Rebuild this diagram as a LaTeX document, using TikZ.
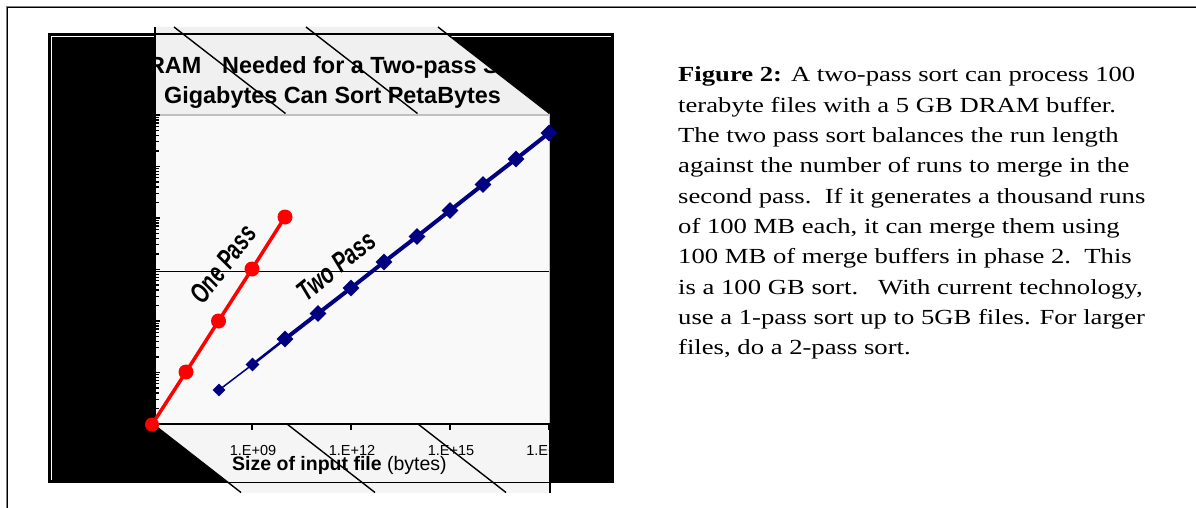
\documentclass[tikz,border=0pt]{standalone}
\usepackage{fontspec}
\usepackage{graphicx}
\setmainfont{Liberation Serif}
\newfontfamily\arialf{Liberation Sans}
\usetikzlibrary{shapes.geometric}
\pgfdeclarelayer{lines}
\pgfdeclarelayer{marks}
\pgfsetlayers{main,lines,marks}
\definecolor{navy}{HTML}{000080}
\definecolor{titlegray}{HTML}{F0F0F0}
\definecolor{plotgray}{HTML}{F9F9F9}
\definecolor{botgray}{HTML}{F5F5F5}
\definecolor{bordgray}{HTML}{C0C0C0}
\newcommand{\capline}[1]{\scalebox{1.24}[1]{#1}}
\begin{document}
\begin{tikzpicture}[x=1pt,y=-1pt,
  txt/.style={inner sep=0pt, anchor=base west},
  captxt/.style={txt, font=\fontsize{21.5}{24}\selectfont},
  ticklab/.style={inner sep=0pt, anchor=base, font=\arialf\fontsize{14.5}{16}\selectfont},
  titletxt/.style={inner sep=0pt, font=\arialf\bfseries\fontsize{23.4}{28}\selectfont},
  serlab/.style={inner sep=0pt, font=\arialf\bfseries\itshape\fontsize{28}{30}\selectfont},
  dot/.style={circle, fill=red, inner sep=0pt, minimum size=15pt},
  dmd/.style={diamond, fill=navy, inner sep=0pt, minimum size=17pt},
  dmds/.style={dmd, minimum size=13pt},
  diag/.style={line width=1.4pt},
  tick/.style={line width=1.1pt},
]
\useasboundingbox (0,0) rectangle (1196,508);
\fill[white] (0,0) rectangle (1196,508);

% outer frame
\draw[gray, line width=1pt] (6.5,508) -- (6.5,6.5) -- (1196,6.5);
\draw[black, line width=1pt] (7.5,508) -- (7.5,7.5) -- (1196,7.5);

% black box
\fill[black] (49,34) rectangle (613.5,483);
\draw[white, line width=1.2pt] (51.5,480) -- (51.5,36.5) -- (611,36.5);

% title region
\fill[titlegray] (155,27) -- (438,27) -- (549.5,113) -- (549.5,115) -- (155,115) -- cycle;
% plot area
\fill[plotgray] (155,115) rectangle (549.5,424);
\draw[bordgray, line width=1.5pt] (155,115) -- (549.5,115) -- (549.5,424);
% bottom band
\fill[botgray] (153,424) -- (550,424) -- (550,493) -- (241,493) -- cycle;
\draw[line width=1.4pt] (550,424) -- (550,493);

% black box border
\draw[line width=1.3pt] (49,34) rectangle (613.5,482.5);

% left axis and ticks
\draw[line width=1.2pt] (155,27) -- (155,424);
\foreach \k in {0,...,5}{
  \draw[tick] (155,{424-51.5*\k}) -- (160,{424-51.5*\k});
  \foreach \m in {2,...,9}{
    \draw[tick] (155,{424-51.5*(\k+log10(\m))}) -- (158.5,{424-51.5*(\k+log10(\m))});
  }
}
\draw[tick] (155,115) -- (160,115);
% grid line
\draw[line width=0.9pt] (155,271) -- (549,271);
% x axis
\draw[line width=2pt] (155,424) -- (550,424);
\foreach \x in {252,351,450,549} \draw[tick] (\x,424) -- (\x,429.5);

% diagonal lines
\foreach \x in {174,306,438} \draw[diag] (\x,27) -- (\x+111.5,113.5);
\foreach \x in {153,287,418} \draw[diag] (\x,424) -- (\x+88,492.5);

% title
\begin{scope}
\clip (155,27) -- (438,27) -- (549.5,113) -- (549.5,115) -- (155,115) -- cycle;
\node[titletxt, anchor=base east] (t1a) at (201.5,73.5) {DRAM};
\node[titletxt, anchor=base west] (t1b) at (222,73.5) {Needed for a Two-pass Sort};
\node[titletxt, anchor=base west] (t2) at (164,103.3) {Gigabytes Can Sort PetaBytes};
\end{scope}

% tick labels
\begin{scope}
\clip (150,430) rectangle (550,480);
\node[ticklab] (l9) at (253,455) {1.E+09};
\node[ticklab] (l12) at (352,455) {1.E+12};
\node[ticklab] (l15) at (451,455) {1.E+15};
\node[ticklab] (l18) at (549.5,455) {1.E+18};
\end{scope}
\node[txt, font=\arialf\fontsize{19.5}{22}\selectfont] (xt) at (232,470.5) {\textbf{Size of input file} (bytes)};

% series labels
\node[serlab, rotate=53] (lab1) at (223,264) {\scalebox{0.7}[1]{One Pass}};
\node[serlab, rotate=39] (lab2) at (336,266) {\scalebox{0.72}[1]{Two Pass}};

% one pass series
\begin{pgfonlayer}{marks}
\node[dot, minimum size=14pt] (r6) at (152,424.5) {};
\node[dot] (r7) at (186,372) {};
\node[dot] (r8) at (218.5,321) {};
\node[dot] (r9) at (252,269) {};
\node[dot] (r10) at (285,217) {};
\end{pgfonlayer}
\begin{pgfonlayer}{lines}
\draw[red, line width=3.5pt] (r6.center) -- (r7.center) -- (r8.center) -- (r9.center) -- (r10.center);
\end{pgfonlayer}

% two pass series
\begin{pgfonlayer}{marks}
\node[dmds] (s8) at (219,390) {};
\node[dmds, minimum size=14pt] (s9) at (252.5,364.5) {};
\node[dmd] (s10) at (285,339) {};
\node[dmd] (s11) at (318,313.5) {};
\node[dmd] (s12) at (351,288) {};
\node[dmd] (s13) at (384,262) {};
\node[dmd] (s14) at (417,236.5) {};
\node[dmd] (s15) at (450,210.5) {};
\node[dmd] (s16) at (483,184.5) {};
\node[dmd] (s17) at (516,159) {};
\node[dmd] (s18) at (549,133) {};
\end{pgfonlayer}
\begin{pgfonlayer}{lines}
\draw[navy, line width=1.5pt] (s8.center) -- (s9.center);
\draw[navy, line width=2.6pt] (s9.center) -- (s10.center);
\draw[navy, line width=4pt, line join=round] (s10.center) -- (s11.center) -- (s12.center) -- (s13.center) -- (s14.center) -- (s15.center) -- (s16.center) -- (s17.center) -- (s18.center);
\end{pgfonlayer}

% caption
\node[captxt] (c1) at (678,82) {\capline{\textbf{Figure 2:} A two-pass sort can process 100}};
\node[captxt] (c2) at (678,112.3) {\capline{terabyte files with a 5 GB DRAM buffer.}};
\node[captxt] (c3) at (678,142.6) {\capline{The two pass sort balances\ the run length}};
\node[captxt] (c4) at (678,172.9) {\capline{against the number of runs to merge in the}};
\node[captxt] (c5) at (678,203.2) {\capline{second pass.\ \ If it generates a thousand runs}};
\node[captxt] (c6) at (678,233.5) {\capline{of 100 MB each, it can merge them using}};
\node[captxt] (c7) at (678,263.8) {\capline{100 MB of merge buffers in phase 2.\ \ This}};
\node[captxt] (c8) at (678,294.1) {\capline{is a 100 GB sort.\ \ \ With current technology,}};
\node[captxt] (c9) at (678,324.4) {\capline{use a 1-pass sort up to 5GB files. For larger}};
\node[captxt] (c10) at (678,354.7) {\capline{files, do a 2-pass sort.}};
\end{tikzpicture}
\end{document}
